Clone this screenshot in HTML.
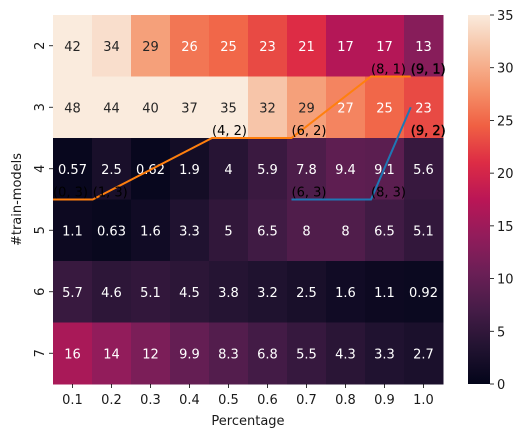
<!DOCTYPE html>
<html><head><meta charset="utf-8"><style>
body{margin:0;background:#fff;}
svg text{font-family:"DejaVu Sans","Liberation Sans",sans-serif;}
</style></head><body>
<svg id="c" width="530" height="438" xmlns="http://www.w3.org/2000/svg">
<defs><linearGradient id="cg" x1="0" y1="1" x2="0" y2="0"></linearGradient></defs>
</svg>
<script>
const cols = ["0.1","0.2","0.3","0.4","0.5","0.6","0.7","0.8","0.9","1.0"];
const rows = ["2","3","4","5","6","7"];
const vals = [
 [42,34,29,26,25,23,21,17,17,13],
 [48,44,40,37,35,32,29,27,25,23],
 [0.57,2.5,0.62,1.9,4,5.9,7.8,9.4,9.1,5.6],
 [1.1,0.63,1.6,3.3,5,6.5,8,8,6.5,5.1],
 [5.7,4.6,5.1,4.5,3.8,3.2,2.5,1.6,1.1,0.92],
 [16,14,12,9.9,8.3,6.8,5.5,4.3,3.3,2.7]
];
const cbTicks = [0,5,10,15,20,25,30,35];
const orangeX = [0,1,4,6,8,9];
const orangeY = [3,3,2,2,1,1];
const orangeLbl = ["(0, 3)","(1, 3)","(4, 2)","(6, 2)","(8, 1)","(9, 1)"];
const blueX = [6,8,9];
const blueY = [3,3,1.5];
const blueLblX = [6,8,9];
const blueLblY = [3,3,2];
const blueLbl = ["(6, 3)","(8, 3)","(9, 2)"];
const vmin=0, vmax=35;

const svg=document.getElementById('c');
const NS="http://www.w3.org/2000/svg";
const L=53,T=15,W=390,H=369;
const cw=W/cols.length, rh=H/rows.length;
const sx=i=>L+i*cw, sy=j=>T+j*rh;
const lx=i=>L+i*39.75;
const stops=[[0,"#03051A"],[0.1,"#221331"],[0.2,"#451C47"],[0.3,"#6A1F56"],[0.4,"#921C5B"],[0.5,"#BA1656"],[0.6,"#DD2C45"],[0.7,"#F06043"],[0.8,"#F5936B"],[0.9,"#F6BFA0"],[1,"#FAEBDD"]];
function hex(h){return [1,3,5].map(k=>parseInt(h.substr(k,2),16));}
function cmap(v){let t=Math.max(0,Math.min(1,(v-vmin)/(vmax-vmin)));
 for(let k=1;k<stops.length;k++){if(t<=stops[k][0]){const a=stops[k-1],b=stops[k];const f=(t-a[0])/(b[0]-a[0]);const ca=hex(a[1]),cb=hex(b[1]);return 'rgb('+ca.map((x,i)=>Math.round(x+(cb[i]-x)*f)).join(',')+')';}}
 return stops[stops.length-1][1];}
function mk(tag,attrs,parent){const e=document.createElementNS(NS,tag);for(const k in attrs)e.setAttribute(k,attrs[k]);(parent||svg).appendChild(e);return e;}
function txt(s,attrs){const e=mk('text',attrs);e.textContent=s;return e;}

vals.forEach((r,j)=>r.forEach((v,i)=>{
 const rc=mk('rect',{x:sx(i),y:sy(j),width:cw+0.5,height:rh+0.5,fill:cmap(v)});
 
 
 const t=txt(String(v),{x:sx(i)+cw/2,y:sy(j)+rh/2+5,'text-anchor':'middle','font-size':13,fill:(v>=28.5?'#262626':'#fff')});
 
 
}));

function line(xs,ys,color,name){
 const p=mk('polyline',{points:xs.map((x,k)=>lx(x)+','+sy(ys[k])).join(' '),fill:'none',stroke:color,'stroke-width':2});
 
 
}
line(orangeX,orangeY,'#ff7f0e','orange-path');
line(blueX,blueY,'#1f77b4','blue-path');
function labels(xs,ys,ls){xs.forEach((x,k)=>{
 const a={x:lx(x),y:sy(ys[k])-3,'font-size':13,fill:'#000'};
 if(x===9){a.stroke='#000';a['stroke-width']=0.4;}
 const t=txt(ls[k],a);
 
 
});}
labels(orangeX,orangeY,orangeLbl);
labels(blueLblX,blueLblY,blueLbl);

cols.forEach((c,i)=>{const x=sx(i)+cw/2;
 mk('line',{x1:x,x2:x,y1:T+H,y2:T+H+4,stroke:'#000','stroke-width':0.8});
 const t=txt(c,{x:x,y:T+H+20,'text-anchor':'middle','font-size':13,fill:'#1a1a1a'});
 
 
});
rows.forEach((r,j)=>{const y=sy(j)+rh/2;
 mk('line',{x1:L-4,x2:L,y1:y,y2:y,stroke:'#000','stroke-width':0.8});
 const t=txt(r,{x:0,y:0,'text-anchor':'middle','font-size':13,fill:'#1a1a1a',transform:`translate(${L-9},${y}) rotate(-90)`});
 
 
});
const xt=txt('Percentage',{x:L+W/2,y:425,'text-anchor':'middle','font-size':13,fill:'#1a1a1a'});


const yt=txt('#train-models',{x:0,y:0,'text-anchor':'middle','font-size':13,fill:'#1a1a1a',transform:`translate(21,${T+H/2}) rotate(-90)`});



const g=document.getElementById('cg');
stops.forEach(s=>mk('stop',{offset:s[0],'stop-color':s[1]},g));
const cb=mk('rect',{x:468,y:T,width:22,height:H,fill:'url(#cg)'});


cbTicks.forEach(v=>{const y=T+H-(v-vmin)/(vmax-vmin)*H;
 mk('line',{x1:490,x2:494,y1:y,y2:y,stroke:'#000','stroke-width':0.8});
 const t=txt(String(v),{x:497,y:y+5,'font-size':13,fill:'#1a1a1a'});
 
 
});
</script>
</body></html>
